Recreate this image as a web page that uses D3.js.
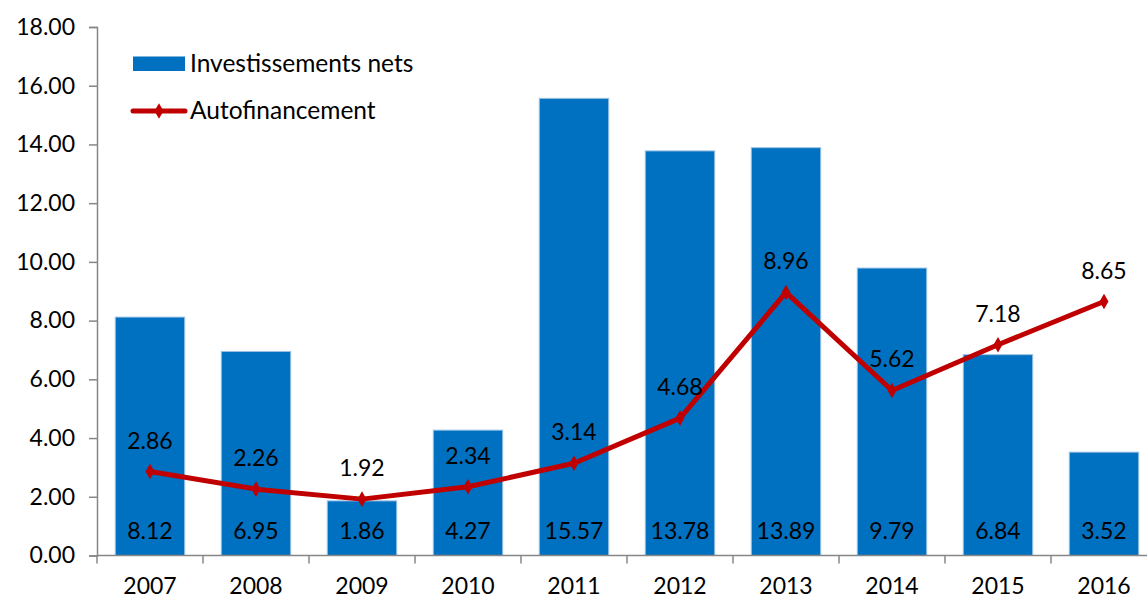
<!DOCTYPE html>
<html><head><meta charset="utf-8">
<script src="https://cdn.jsdelivr.net/npm/d3@7"></script>
<style>body{margin:0;background:#fff}svg{display:block;font-family:Lato,"Open Sans",sans-serif}</style>
</head><body>
<svg id="c" width="1147" height="600"></svg>
<script>
const years = ["2007","2008","2009","2010","2011","2012","2013","2014","2015","2016"];
const investissements = [8.12,6.95,1.86,4.27,15.57,13.78,13.89,9.79,6.84,3.52];
const autofinancement = [2.86,2.26,1.92,2.34,3.14,4.68,8.96,5.62,7.18,8.65];
const yTicks = [0,2,4,6,8,10,12,14,16,18];
const seriesNames = ["Investissements nets","Autofinancement"];

const svg = d3.select("#c");
const x = d3.scaleBand().domain(years).range([97,1157]).paddingInner(0.345).paddingOuter(0.1725);
const xb = d3.scaleBand().domain(years).range([97,1157]);
const y = d3.scaleLinear().domain([0,18]).range([555.5,27]);
const axisCol = "#868686";
const fs = 23;
const fsLegend = 24.5;

// y axis
const ya = svg.append("g").attr("transform","translate(97,0)")
  .call(d3.axisLeft(y).tickValues(yTicks).tickFormat(d3.format(".2f")).tickSize(8).tickPadding(14));
ya.select(".domain").attr("stroke",axisCol).attr("stroke-width",1.5);
ya.selectAll(".tick line").attr("stroke",axisCol).attr("stroke-width",1.5);
ya.selectAll(".tick text").attr("font-size",fs).attr("fill","#000").attr("font-family","Lato,sans-serif");

// bars
svg.append("g").selectAll("rect").data(investissements).join("rect")
  .attr("x",(d,i)=>x(years[i])).attr("width",x.bandwidth())
  .attr("y",d=>y(d)).attr("height",d=>y(0)-y(d))
  .attr("fill","#0070C0").attr("stroke","#9CC2E5").attr("stroke-width",1);

// x axis
const xa = svg.append("g").attr("transform","translate(0,555.5)");
xa.append("line").attr("x1",97).attr("x2",1157).attr("stroke",axisCol).attr("stroke-width",1.5);
xa.selectAll("line.tk").data(years).join("line").attr("class","tk")
  .attr("x1",d=>xb(d)).attr("x2",d=>xb(d)).attr("y1",0).attr("y2",8)
  .attr("stroke",axisCol).attr("stroke-width",1.5);
xa.selectAll("text").data(years).join("text")
  .attr("x",d=>xb(d)+xb.bandwidth()/2).attr("y",38)
  .attr("text-anchor","middle").attr("font-size",fs).text(d=>d);

// bar labels
svg.append("g").selectAll("text").data(investissements).join("text")
  .attr("x",(d,i)=>xb(years[i])+xb.bandwidth()/2).attr("y",y(0)-17)
  .attr("text-anchor","middle").attr("font-size",fs).text(d=>d.toFixed(2));

// line
const line = d3.line().x((d,i)=>xb(years[i])+xb.bandwidth()/2).y(d=>y(d));
svg.append("path").datum(autofinancement).attr("d",line)
  .attr("fill","none").attr("stroke","#C00000").attr("stroke-width",5).attr("stroke-linejoin","round");
const diamond = d3.symbol().type(d3.symbolDiamond).size(70);
svg.append("g").selectAll("path").data(autofinancement).join("path")
  .attr("d",diamond)
  .attr("transform",(d,i)=>`translate(${xb(years[i])+xb.bandwidth()/2},${y(d)})`)
  .attr("fill","#C00000");
svg.append("g").selectAll("text").data(autofinancement).join("text")
  .attr("x",(d,i)=>xb(years[i])+xb.bandwidth()/2).attr("y",d=>y(d)-23)
  .attr("text-anchor","middle").attr("font-size",fs).text(d=>d.toFixed(2));

// legend
const lg = svg.append("g");
lg.append("rect").attr("x",133).attr("y",56.5).attr("width",52).attr("height",14.5).attr("fill","#0070C0");
lg.append("text").attr("x",190).attr("y",71.5).attr("font-size",fsLegend).text(seriesNames[0]);
lg.append("line").attr("x1",133).attr("x2",185).attr("y1",111).attr("y2",111)
  .attr("stroke","#C00000").attr("stroke-width",5).attr("stroke-linecap","round");
lg.append("path").attr("d",diamond).attr("transform","translate(159,111)").attr("fill","#C00000");
lg.append("text").attr("x",190).attr("y",118.5).attr("font-size",fsLegend).text(seriesNames[1]);
</script>
</body></html>
